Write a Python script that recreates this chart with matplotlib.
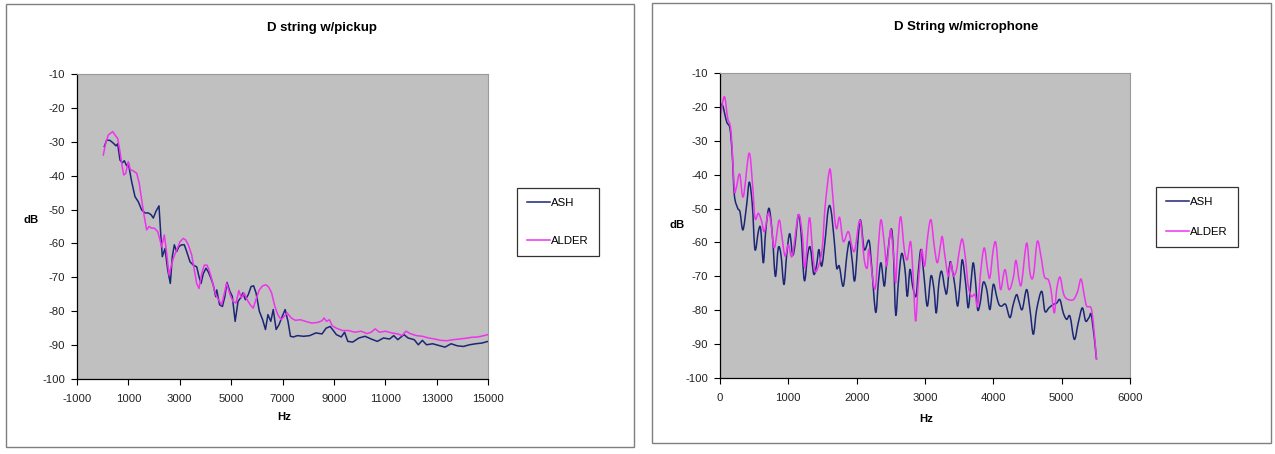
import matplotlib as mpl
mpl.use('Agg')
import matplotlib.pyplot as plt
import numpy as np
from matplotlib.patches import Rectangle, PathPatch
from matplotlib.path import Path
from matplotlib.lines import Line2D

plt.rcParams['font.family'] = ['Liberation Sans', 'DejaVu Sans']
plt.rcParams['axes.unicode_minus'] = False

# pickup spectrum, ASH
pick_ash_hz = [63, 156, 285, 413, 518, 583, 674, 764, 842, 934, 997, 1129, 1258, 1387, 1517,
               1647, 1776, 1881, 1970, 2075, 2192, 2258, 2321, 2426, 2531, 2633, 2710, 2789,
               2881, 2971, 3076, 3177, 3271, 3399, 3527, 3660, 3750, 3828, 3917, 4022, 4111,
               4217, 4306, 4400, 4439, 4551, 4662, 4758, 4838, 4950, 5045, 5157, 5268, 5364,
               5460, 5555, 5667, 5779, 5875, 5970, 6098, 6226, 6337, 6433, 6544, 6640, 6752,
               6863, 6991, 7103, 7214, 7310, 7422, 7581, 7820, 8060, 8299, 8538, 8698, 8857,
               8969, 9096, 9288, 9415, 9543, 9734, 9974, 10213, 10452, 10691, 10930, 11170,
               11329, 11489, 11728, 11888, 12127, 12287, 12446, 12606, 12845, 13084, 13324,
               13563, 13802, 14041, 14281, 14520, 14759, 14998]
pick_ash_db = [-31.4, -29.5, -29.6, -30.4, -31.2, -30.6, -35.4, -36.2, -35.6, -37.1, -36.3,
               -41.8, -46.2, -47.7, -50.1, -51.0, -51.0, -51.5, -52.5, -50.5, -48.9, -57.0,
               -63.9, -61.5, -67.8, -71.8, -63.9, -60.4, -62.4, -60.9, -60.4, -60.4, -62.4,
               -65.4, -66.4, -66.9, -69.8, -71.8, -68.9, -67.3, -68.4, -70.3, -72.3, -75.7,
               -73.7, -78.1, -78.6, -75.6, -71.5, -74.1, -75.6, -83.0, -77.1, -76.1, -74.6,
               -76.6, -75.1, -72.7, -72.5, -74.6, -80.0, -82.5, -85.4, -81.0, -83.0, -79.5,
               -85.4, -84.0, -81.5, -79.5, -83.0, -87.4, -87.6, -87.2, -87.4, -87.2, -86.4,
               -86.7, -85.0, -84.5, -85.6, -86.9, -87.6, -86.2, -88.9, -89.1, -87.9, -87.4,
               -88.2, -88.9, -87.9, -88.2, -87.2, -88.4, -86.9, -87.9, -88.4, -89.9, -88.6,
               -89.9, -89.6, -90.1, -90.6, -89.6, -90.2, -90.4, -89.9, -89.6, -89.4, -88.9]

# pickup spectrum, ALDER
pick_alder_hz = [24, 117, 219, 285, 390, 479, 583, 674, 740, 818, 896, 997, 1075, 1192, 1324,
                 1425, 1517, 1620, 1712, 1803, 1908, 2008, 2141, 2231, 2297, 2399, 2491, 2582,
                 2660, 2749, 2881, 3010, 3138, 3232, 3333, 3465, 3567, 3660, 3750, 3855, 3956,
                 4061, 4139, 4256, 4345, 4439, 4551, 4631, 4742, 4822, 4902, 4982, 5077, 5189,
                 5300, 5396, 5508, 5619, 5747, 5859, 5986, 6098, 6226, 6353, 6465, 6576, 6704,
                 6816, 6943, 7071, 7182, 7342, 7502, 7693, 7900, 8140, 8379, 8538, 8618, 8714,
                 8826, 8937, 9096, 9336, 9575, 9814, 10054, 10293, 10452, 10612, 10771, 11010,
                 11249, 11489, 11648, 11808, 11967, 12206, 12446, 12685, 12925, 13164, 13403,
                 13643, 13882, 14121, 14360, 14600, 14839, 14998]
pick_alder_db = [-33.9, -30.4, -28.0, -27.6, -27.0, -28.0, -29.0, -32.9, -36.3, -39.8, -39.3,
                 -35.9, -38.2, -38.6, -39.3, -42.3, -47.2, -52.1, -56.0, -55.0, -55.5, -55.5,
                 -56.5, -59.0, -61.0, -57.5, -62.9, -69.3, -66.9, -64.4, -61.9, -59.5, -58.5,
                 -59.0, -60.4, -63.4, -67.8, -71.8, -73.3, -68.9, -66.4, -66.4, -67.8, -70.8,
                 -73.8, -75.7, -77.1, -78.1, -74.6, -71.7, -73.7, -75.6, -77.1, -77.6, -73.9,
                 -76.1, -74.6, -76.6, -78.1, -79.1, -76.1, -73.7, -72.5, -72.2, -72.9, -74.6,
                 -78.6, -81.0, -82.5, -81.5, -80.5, -82.0, -82.7, -82.5, -83.0, -83.5, -83.3,
                 -82.8, -82.0, -83.0, -82.5, -84.3, -85.0, -85.7, -85.7, -86.2, -85.9, -86.6,
                 -86.2, -85.2, -86.2, -85.9, -86.4, -86.7, -87.2, -85.9, -86.6, -87.2, -87.4,
                 -87.9, -88.2, -88.6, -88.7, -88.4, -88.2, -88.0, -87.7, -87.6, -87.2, -86.9]

# microphone spectrum, ASH
mic_ash_hz = [0, 34, 98, 146, 180, 210, 259, 293, 336, 390, 429, 473, 512, 561, 595, 634, 668,
              717, 766, 810, 853, 892, 936, 976, 1020, 1063, 1097, 1146, 1185, 1234, 1283,
              1322, 1371, 1415, 1448, 1488, 1536, 1585, 1624, 1673, 1707, 1746, 1804, 1858,
              1897, 1936, 1975, 2048, 2111, 2180, 2219, 2278, 2317, 2356, 2404, 2439, 2502,
              2536, 2571, 2610, 2658, 2707, 2741, 2780, 2819, 2868, 2902, 2941, 2985, 3034,
              3087, 3131, 3165, 3204, 3243, 3292, 3321, 3365, 3399, 3438, 3477, 3511, 3545,
              3594, 3633, 3672, 3706, 3741, 3770, 3808, 3852, 3902, 3950, 3999, 4048, 4082,
              4121, 4180, 4243, 4291, 4340, 4375, 4423, 4487, 4536, 4585, 4634, 4707, 4755,
              4814, 4877, 4927, 4975, 5024, 5073, 5122, 5185, 5243, 5302, 5351, 5400, 5439,
              5510]
mic_ash_db = [-20.5, -19.3, -24.4, -26.4, -34.2, -46.0, -49.9, -51.0, -56.3, -48.9, -42.2,
              -48.9, -62.1, -56.8, -55.9, -66.0, -56.8, -49.9, -57.7, -70.0, -61.6, -63.6,
              -72.4, -63.6, -57.4, -63.6, -60.7, -51.9, -56.8, -71.2, -63.6, -61.5, -69.3,
              -66.5, -62.1, -67.0, -59.7, -50.1, -50.4, -59.7, -67.5, -67.0, -72.9, -63.6,
              -59.7, -65.6, -71.0, -53.5, -62.1, -59.4, -67.0, -80.6, -71.9, -66.0, -72.9,
              -66.0, -56.1, -62.1, -81.3, -71.9, -63.3, -68.0, -75.9, -68.0, -72.9, -75.9,
              -68.5, -62.1, -69.9, -78.8, -69.9, -73.8, -80.8, -71.9, -68.5, -73.8, -74.7,
              -66.0, -68.0, -72.9, -78.8, -72.9, -65.1, -71.9, -79.3, -71.9, -66.0, -71.9,
              -79.8, -77.8, -71.8, -73.8, -79.8, -72.4, -75.9, -78.3, -78.8, -78.3, -82.2,
              -78.3, -75.4, -77.4, -79.8, -73.9, -79.8, -87.1, -79.8, -74.4, -80.3, -79.3,
              -78.3, -77.9, -76.9, -80.8, -82.7, -81.8, -88.6, -83.7, -79.3, -83.2, -82.2,
              -81.8, -94.5]

# microphone spectrum, ALDER
mic_alder_hz = [0, 63, 112, 161, 210, 236, 288, 341, 424, 473, 512, 561, 610, 649, 707, 746,
                795, 863, 902, 951, 1000, 1058, 1146, 1205, 1244, 1307, 1351, 1390, 1448, 1497,
                1536, 1595, 1624, 1673, 1707, 1751, 1804, 1878, 1936, 1975, 2048, 2111, 2155,
                2180, 2243, 2278, 2317, 2356, 2404, 2439, 2478, 2502, 2546, 2571, 2600, 2644,
                2697, 2741, 2790, 2829, 2863, 2902, 2951, 2994, 3039, 3087, 3136, 3180, 3224,
                3253, 3292, 3341, 3380, 3414, 3462, 3497, 3545, 3594, 3633, 3682, 3731, 3770,
                3818, 3867, 3916, 3950, 3999, 4038, 4082, 4111, 4170, 4228, 4291, 4331, 4380,
                4414, 4487, 4536, 4585, 4643, 4697, 4746, 4804, 4843, 4892, 4927, 4975, 5024,
                5073, 5170, 5234, 5283, 5332, 5366, 5429, 5463, 5510]
mic_alder_db = [-23.4, -17.0, -23.3, -27.3, -44.0, -44.0, -39.8, -46.5, -33.7, -42.0, -52.8,
                -51.4, -53.8, -56.8, -51.4, -54.3, -61.6, -53.5, -57.7, -64.0, -60.7, -64.0,
                -51.9, -57.7, -67.5, -52.8, -61.6, -68.5, -66.5, -61.6, -49.9, -39.4, -40.0,
                -51.9, -56.0, -52.6, -59.7, -56.8, -61.6, -62.1, -53.5, -65.1, -67.5, -62.1,
                -71.9, -72.9, -61.2, -53.3, -60.3, -67.0, -59.4, -56.4, -65.1, -71.9, -61.2,
                -52.4, -62.1, -65.1, -59.8, -70.9, -83.2, -71.9, -62.1, -67.0, -58.3, -53.3,
                -61.2, -66.0, -61.2, -58.3, -64.1, -69.9, -66.0, -69.9, -68.0, -63.2, -59.0,
                -65.1, -72.9, -75.9, -75.4, -78.8, -68.0, -61.6, -68.0, -70.4, -62.1, -60.2,
                -70.0, -73.9, -68.0, -73.9, -70.5, -65.3, -71.4, -71.9, -60.2, -69.0, -70.0,
                -59.7, -64.1, -70.0, -71.0, -73.9, -80.8, -73.9, -70.2, -74.9, -76.6, -76.9,
                -74.4, -70.8, -75.8, -78.8, -79.3, -83.7, -94.5]

titles = ["D string w/pickup", "D String w/microphone"]
series_names = ["ASH", "ALDER"]
ash_col = "#1c2577"
alder_col = "#ee33ee"

W, H = 1275, 454
fig = plt.figure(figsize=(W / 100, H / 100), dpi=100)


def px(x0, y0, x1, y1):
    # pixel box -> figure fraction [left, bottom, width, height]
    return [x0 / W, 1 - y1 / H, (x1 - x0) / W, (y1 - y0) / H]


def smooth_line(ax, x, y, color):
    # "smoothed line" style: cubic bezier through every reading (Catmull-Rom handles)
    p = np.column_stack([x, y]).astype(float)
    q = np.vstack([p[0], p, p[-1]])
    verts = [p[0]]
    codes = [Path.MOVETO]
    for i in range(len(p) - 1):
        c1 = q[i + 1] + (q[i + 2] - q[i]) / 6.0
        c2 = q[i + 2] - (q[i + 3] - q[i + 1]) / 6.0
        verts += [c1, c2, p[i + 1]]
        codes += [Path.CURVE4] * 3
    ax.add_patch(PathPatch(Path(verts, codes), facecolor="none", edgecolor=color,
                           lw=1.1, joinstyle="round", capstyle="round"))
    return Line2D([], [], color=color, lw=1.1)


def chart(box, axbox, title, title_xy, hz_xy, db_xy, leg_xy,
          xs, xlim, xticks, labelspacing, smooth):
    fig.patches.append(Rectangle((box[0] / W, 1 - box[3] / H), (box[2] - box[0]) / W,
                                 (box[3] - box[1]) / H, transform=fig.transFigure,
                                 fill=False, edgecolor="#7f7f7f", lw=1))
    ax = fig.add_axes(px(*axbox))
    ax.set_facecolor("#c0c0c0")
    if smooth:
        l1 = smooth_line(ax, xs[0], xs[1], ash_col)
        l2 = smooth_line(ax, xs[2], xs[3], alder_col)
    else:
        l1, = ax.plot(xs[0], xs[1], color=ash_col, lw=1.1)
        l2, = ax.plot(xs[2], xs[3], color=alder_col, lw=1.1)
    ax.set_xlim(*xlim)
    ax.set_ylim(-100, -10)
    ax.set_xticks(xticks)
    ax.set_yticks(range(-100, 0, 10))
    for s in ["top", "right"]:
        ax.spines[s].set_color("#9a9a9a")
        ax.spines[s].set_linewidth(0.8)
    for s in ["left", "bottom"]:
        ax.spines[s].set_color("#000000")
        ax.spines[s].set_linewidth(0.9)
    ax.tick_params(axis="x", direction="out", length=4, width=0.8, pad=6.5,
                   labelsize=8.2, labelcolor="#222222")
    ax.tick_params(axis="y", direction="out", length=4, width=0.8, pad=4.5,
                   labelsize=8.2, labelcolor="#222222")
    fig.text(title_xy[0] / W, 1 - title_xy[1] / H, title, ha="center", va="center",
             fontsize=9.5, fontweight="bold")
    fig.text(hz_xy[0] / W, 1 - hz_xy[1] / H, "Hz", ha="center", va="center",
             fontsize=8.2, fontweight="bold")
    fig.text(db_xy[0] / W, 1 - db_xy[1] / H, "dB", ha="center", va="center",
             fontsize=8.2, fontweight="bold")
    leg = fig.legend([l1, l2], series_names, loc="upper left",
                     bbox_to_anchor=(leg_xy[0] / W, 1 - leg_xy[1] / H),
                     fontsize=8.2, frameon=True, fancybox=False, shadow=False,
                     handlelength=2.0, handletextpad=0.1, labelspacing=labelspacing,
                     borderpad=0.9, borderaxespad=0)
    leg.get_frame().set_edgecolor("#000000")
    leg.get_frame().set_linewidth(0.9)
    return ax


chart((6, 4, 634, 447), (77, 74, 488, 379), titles[0], (322, 28), (284, 417), (31, 220),
      (517, 188), (pick_ash_hz, pick_ash_db, pick_alder_hz, pick_alder_db),
      (-1000, 15000), range(-1000, 15001, 2000), 2.4, False)
chart((652, 3, 1271, 443), (720, 73, 1130, 378), titles[1], (966, 27), (926, 419),
      (677, 225), (1156, 187),
      (mic_ash_hz, mic_ash_db, mic_alder_hz, mic_alder_db),
      (0, 6000), range(0, 6001, 1000), 1.7, True)

fig.savefig("out.png", dpi=100)
